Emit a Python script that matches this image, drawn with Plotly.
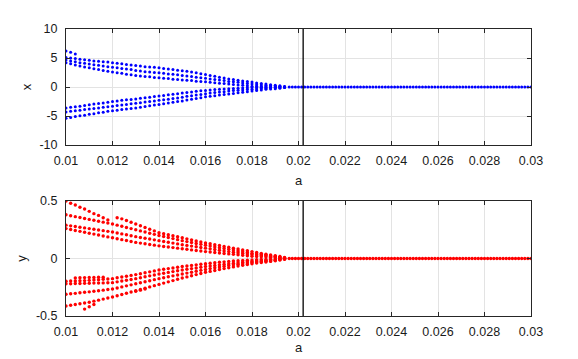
import numpy as np
import plotly.graph_objects as go
from plotly.subplots import make_subplots

# ---- parameter grid (a) ----
A_START, A_STEP = 0.0100, 0.0002          # converging part, one column per step
a_flat = np.linspace(0.0196, 0.0300, 79)  # settled part (single fixed point)
bif_a = 0.0202                            # vertical marker line

# ---- x series (top panel), one list per visible dotted branch ----
x_short = [6.2, 6.0, 5.7]
x_up1 = [5.1, 5.0, 4.9, 4.8, 4.7, 4.6, 4.5, 4.45, 4.35, 4.3,
         4.2, 4.1, 4.0, 3.9, 3.8, 3.7, 3.6, 3.5, 3.45, 3.4,
         3.3, 3.2, 3.1, 3.0, 2.9, 2.8, 2.7, 2.6, 2.45, 2.3,
         2.15, 2.0, 1.85, 1.7, 1.55, 1.4, 1.3, 1.15, 1.05, 0.95,
         0.85, 0.7, 0.6, 0.5, 0.4, 0.3, 0.2, 0.1]
x_up2 = [4.65, 4.5, 4.35, 4.2, 4.1, 3.95, 3.85, 3.75, 3.6, 3.5,
         3.4, 3.3, 3.2, 3.1, 3.0, 2.85, 2.75, 2.65, 2.6, 2.5,
         2.45, 2.35, 2.25, 2.2, 2.1, 2.0, 1.9, 1.8, 1.7, 1.6,
         1.5, 1.4, 1.3, 1.2, 1.1, 0.95, 0.9, 0.8, 0.7, 0.6,
         0.5, 0.4, 0.35, 0.3, 0.25, 0.18, 0.12, 0.06]
x_up3 = [4.2, 4.0, 3.8, 3.6, 3.45, 3.3, 3.15, 3.0, 2.85, 2.7,
         2.6, 2.45, 2.35, 2.2, 2.1, 2.0, 1.9, 1.8, 1.75, 1.65,
         1.6, 1.5, 1.45, 1.35, 1.3, 1.2, 1.15, 1.1, 1.0, 0.95,
         0.9, 0.8, 0.75, 0.65, 0.6, 0.5, 0.45, 0.35, 0.3, 0.2,
         0.15, 0.12, 0.1, 0.08, 0.06, 0.05, 0.03, 0.02]
x_lo1 = [-3.6, -3.5, -3.4, -3.3, -3.2, -3.05, -2.95, -2.85, -2.75, -2.65,
         -2.5, -2.4, -2.3, -2.2, -2.15, -2.05, -1.95, -1.85, -1.75, -1.65,
         -1.55, -1.45, -1.35, -1.25, -1.15, -1.05, -0.95, -0.85, -0.75, -0.65,
         -0.6, -0.5, -0.45, -0.4, -0.35, -0.3, -0.25, -0.2, -0.16, -0.13,
         -0.1, -0.08, -0.06, -0.05, -0.04, -0.03, -0.02, -0.01]
x_lo2 = [-4.3, -4.2, -4.1, -4.0, -3.9, -3.8, -3.7, -3.6, -3.5, -3.4,
         -3.3, -3.2, -3.1, -3.0, -2.9, -2.8, -2.7, -2.6, -2.5, -2.4,
         -2.3, -2.2, -2.1, -2.0, -1.9, -1.75, -1.6, -1.5, -1.4, -1.3,
         -1.15, -1.05, -0.95, -0.85, -0.8, -0.7, -0.6, -0.55, -0.5, -0.45,
         -0.4, -0.33, -0.28, -0.22, -0.18, -0.15, -0.1, -0.05]
x_lo3 = [-5.4, -5.25, -5.1, -4.95, -4.85, -4.7, -4.6, -4.45, -4.35, -4.2,
         -4.1, -4.0, -3.9, -3.8, -3.7, -3.6, -3.5, -3.35, -3.25, -3.1,
         -3.0, -2.9, -2.75, -2.65, -2.5, -2.4, -2.25, -2.1, -2.0, -1.85,
         -1.7, -1.6, -1.5, -1.4, -1.3, -1.2, -1.1, -1.0, -0.9, -0.8,
         -0.7, -0.6, -0.5, -0.4, -0.35, -0.3, -0.2, -0.1]
x_flat = [0.0] * len(a_flat)

# ---- y series (bottom panel) ----
y_up1 = [0.50, 0.48, 0.465, 0.445, 0.43, 0.41, 0.39, 0.375, 0.355, 0.335,
         None, 0.355, 0.345, 0.33, 0.315, 0.30, 0.285, 0.27, 0.255, 0.24,
         0.225, 0.216, 0.207, 0.198, 0.189, 0.18, 0.171, 0.162, 0.153, 0.144,
         0.135, 0.128, 0.12, 0.113, 0.105, 0.098, 0.09, 0.083, 0.075, 0.068,
         0.06, 0.053, 0.045, 0.038, 0.031, 0.024, 0.017, 0.01]
y_up2 = [0.38, 0.372, 0.364, 0.356, 0.348, 0.34, 0.332, 0.324, 0.316, 0.308,
         0.30, 0.29, 0.28, 0.27, 0.26, 0.25, 0.24, 0.23, 0.22, 0.21,
         0.20, 0.191, 0.182, 0.173, 0.164, 0.155, 0.147, 0.139, 0.131, 0.123,
         0.115, 0.108, 0.101, 0.094, 0.087, 0.08, 0.073, 0.066, 0.059, 0.052,
         0.045, 0.04, 0.035, 0.03, 0.025, 0.02, 0.012, 0.005]
y_up3 = [0.29, 0.284, 0.278, 0.272, 0.266, 0.26, 0.254, 0.248, 0.242, 0.236,
         0.23, 0.222, 0.214, 0.206, 0.198, 0.19, 0.183, 0.176, 0.169, 0.162,
         0.155, 0.148, 0.141, 0.134, 0.127, 0.12, 0.114, 0.108, 0.102, 0.096,
         0.09, 0.084, 0.078, 0.072, 0.066, 0.06, 0.055, 0.05, 0.045, 0.04,
         0.035, 0.031, 0.027, 0.023, 0.019, 0.015, 0.009, 0.003]
y_up4 = [0.26, 0.252, 0.244, 0.236, 0.228, 0.22, 0.212, 0.204, 0.196, 0.188,
         0.18, 0.172, 0.164, 0.156, 0.148, 0.14, 0.134, 0.128, 0.122, 0.116,
         0.11, 0.105, 0.10, 0.095, 0.09, 0.085, 0.08, 0.075, 0.07, 0.065,
         0.06, 0.056, 0.052, 0.048, 0.044, 0.04, 0.036, 0.032, 0.028, 0.024,
         0.02, 0.018, 0.015, 0.013, 0.01, 0.008, 0.004, 0.0]
y_lo1 = [-0.198, -0.196, -0.195, -0.193, -0.192, -0.19, -0.187, -0.184, -0.181, -0.178,
         -0.175, -0.168, -0.161, -0.154, -0.147, -0.14, -0.132, -0.124, -0.116, -0.108,
         -0.10, -0.094, -0.088, -0.082, -0.076, -0.07, -0.065, -0.06, -0.055, -0.05,
         -0.045, -0.041, -0.037, -0.033, -0.029, -0.025, -0.022, -0.02, -0.017, -0.015,
         -0.012, -0.011, -0.009, -0.008, -0.006, -0.005, -0.002, 0.0]
y_lo2 = [-0.22, -0.219, -0.218, -0.217, -0.216, -0.215, -0.214, -0.213, -0.212, -0.211,
         -0.21, -0.203, -0.196, -0.189, -0.182, -0.175, -0.167, -0.159, -0.151, -0.143,
         -0.135, -0.128, -0.121, -0.114, -0.107, -0.10, -0.094, -0.088, -0.082, -0.076,
         -0.07, -0.065, -0.06, -0.055, -0.05, -0.045, -0.041, -0.037, -0.033, -0.029,
         -0.025, -0.022, -0.019, -0.016, -0.013, -0.01, -0.006, -0.003]
y_lo3 = [-0.311, -0.307, -0.303, -0.298, -0.294, -0.29, -0.285, -0.28, -0.275, -0.27,
         -0.265, -0.256, -0.247, -0.238, -0.229, -0.22, -0.211, -0.202, -0.193, -0.184,
         -0.175, -0.167, -0.159, -0.151, -0.143, -0.135, -0.127, -0.119, -0.111, -0.103,
         -0.095, -0.088, -0.081, -0.074, -0.067, -0.06, -0.055, -0.05, -0.045, -0.04,
         -0.035, -0.031, -0.027, -0.023, -0.019, -0.015, -0.01, -0.005]
y_lo4 = [-0.413, -0.406, -0.40, -0.393, -0.387, -0.38, -0.371, -0.362, -0.353, -0.344,
         -0.335, -0.324, -0.313, -0.302, -0.291, -0.28, -0.269, -0.258, -0.247, -0.236,
         -0.225, -0.214, -0.203, -0.192, -0.181, -0.17, -0.16, -0.15, -0.14, -0.13,
         -0.12, -0.112, -0.104, -0.096, -0.088, -0.08, -0.073, -0.066, -0.059, -0.052,
         -0.045, -0.04, -0.035, -0.03, -0.025, -0.02, -0.013, -0.007]
# short fragments: (a values, y values)
yfrag_a1 = [0.0104, 0.0106, 0.0108, 0.0110, 0.0112, 0.0114, 0.0116]
yfrag_v1 = [-0.17, -0.168, -0.166, -0.165, -0.165, -0.163, -0.162]
yfrag_a2 = [0.0108, 0.0110, 0.0112]
yfrag_v2 = [-0.44, -0.42, -0.40]
yfrag_a3 = [0.0130, 0.0132, 0.0134]
yfrag_v3 = [-0.285, -0.275, -0.265]
y_flat = [0.0] * len(a_flat)

# ---- ticks ----
a_ticks = [0.01, 0.012, 0.014, 0.016, 0.018, 0.02, 0.022, 0.024, 0.026, 0.028, 0.03]
a_ticktext = ["0.01", "0.012", "0.014", "0.016", "0.018", "0.02",
              "0.022", "0.024", "0.026", "0.028", "0.03"]
x_ticks = [-10, -5, 0, 5, 10]
y_ticks = [-0.5, 0, 0.5]
x_range = [-10, 10]
y_range = [-0.5, 0.5]

BLUE = "#0000ff"
RED = "#ff0000"


def grid_for(vals, start=A_START):
    return [round(start + A_STEP * i, 6) for i in range(len(vals))]


fig = make_subplots(rows=2, cols=1, vertical_spacing=0.195)


def add_dots(a_vals, v_vals, color, row, size):
    fig.add_trace(go.Scatter(x=a_vals, y=v_vals, mode="markers",
                             marker=dict(color=color, size=size, symbol="circle",
                                         line=dict(width=0)),
                             showlegend=False, hoverinfo="x+y"), row=row, col=1)


BSIZE = 3.0
RSIZE = 3.4
add_dots(grid_for(x_short), x_short, BLUE, 1, BSIZE)
for s in (x_up1, x_up2, x_up3, x_lo1, x_lo2, x_lo3):
    add_dots(grid_for(s), s, BLUE, 1, BSIZE)
add_dots(list(a_flat), x_flat, BLUE, 1, BSIZE)

for s in (y_up1, y_up2, y_up3, y_up4, y_lo1, y_lo2, y_lo3, y_lo4):
    add_dots(grid_for(s), s, RED, 2, RSIZE)
for fa, fv in ((yfrag_a1, yfrag_v1), (yfrag_a2, yfrag_v2), (yfrag_a3, yfrag_v3)):
    add_dots(fa, fv, RED, 2, RSIZE)
add_dots(list(a_flat), y_flat, RED, 2, RSIZE)

# vertical marker line in both panels
fig.add_trace(go.Scatter(x=[bif_a, bif_a], y=x_range, mode="lines",
                         line=dict(color="black", width=1.3),
                         showlegend=False, hoverinfo="skip"), row=1, col=1)
fig.add_trace(go.Scatter(x=[bif_a, bif_a], y=y_range, mode="lines",
                         line=dict(color="black", width=1.3),
                         showlegend=False, hoverinfo="skip"), row=2, col=1)

font = dict(family="Liberation Sans, Arial, sans-serif", size=12.5, color="#1a1a1a")
title_font = dict(family=font["family"], size=13, color="#1a1a1a")
axis_common = dict(showline=True, mirror="ticks", linecolor="#262626", linewidth=1,
                   ticks="inside", ticklen=4, tickwidth=1, tickcolor="#262626",
                   showgrid=True, gridcolor="#e3e3e3", gridwidth=1,
                   zeroline=False, tickfont=font, automargin=False)

fig.update_xaxes(range=[0.01, 0.03], tickvals=a_ticks, ticktext=a_ticktext,
                 title=dict(text="a", font=title_font, standoff=8),
                 ticklabelstandoff=4, row=1, col=1, **axis_common)
fig.update_xaxes(range=[0.01, 0.03], tickvals=a_ticks, ticktext=a_ticktext,
                 title=dict(text="a", font=title_font, standoff=4),
                 ticklabelstandoff=4, row=2, col=1, **axis_common)

fig.update_yaxes(range=x_range, tickvals=x_ticks, ticktext=["-10", "-5", "0", "5", "10"],
                 title=dict(text="x", font=title_font, standoff=4),
                 ticklabelstandoff=5, row=1, col=1, **axis_common)
fig.update_yaxes(range=y_range, tickvals=y_ticks, ticktext=["-0.5", "0", "0.5"],
                 title=dict(text="y", font=title_font, standoff=6),
                 ticklabelstandoff=5, row=2, col=1, **axis_common)

# the page body adds an 8 px offset, so the figure is 8 px smaller on each axis
fig.update_layout(
    width=570, height=351,
    margin=dict(l=58, r=47, t=21, b=43, autoexpand=False),
    paper_bgcolor="white", plot_bgcolor="white",
    font=font,
)
fig.layout.yaxis.domain = [171 / 287, 1.0]
fig.layout.yaxis2.domain = [0.0, 115 / 287]

fig.write_html("out.html")
